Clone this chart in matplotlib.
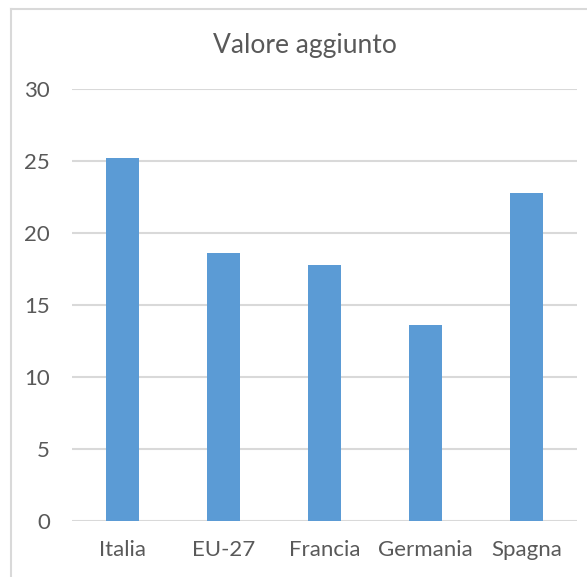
import matplotlib.pyplot as plt
from matplotlib.lines import Line2D

# Data
countries = ['Italia', 'EU-27', 'Francia', 'Germania', 'Spagna']
values = [25.2, 18.6, 17.8, 13.6, 22.8]
yticks = [0, 5, 10, 15, 20, 25, 30]

plt.rcParams['font.family'] = ['Lato', 'DejaVu Sans']
text_color = '#595959'
grid_color = '#D9D9D9'

fig = plt.figure(figsize=(5.87, 5.77), dpi=100)
ax = fig.add_axes([72 / 587, 1 - 521 / 577, 505 / 587, 432 / 577])

x = range(len(countries))
ax.bar(x, values, width=0.32, color='#5B9BD5', zorder=3)

ax.set_xlim(-0.5, len(countries) - 0.5)
ax.set_ylim(0, 30)
ax.set_yticks(yticks)
ax.set_xticks(list(x))
ax.set_xticklabels(countries)

# Gridlines, no spines
ax.grid(axis='y', color=grid_color, linewidth=1.5, zorder=0)
ax.set_axisbelow(True)
for s in ax.spines.values():
    s.set_visible(False)
ax.tick_params(length=0, labelsize=16, labelcolor=text_color)
ax.tick_params(axis='y', pad=16)
ax.tick_params(axis='x', pad=14)

fig.text(305 / 587, 1 - 45 / 577, 'Valore aggiunto', ha='center', va='center',
         fontsize=19, color=text_color)

# Chart-area border (left and top edges visible)
fig.add_artist(Line2D([11 / 587, 11 / 587], [0, 1 - 9 / 577], color=grid_color,
                      linewidth=1.5, transform=fig.transFigure))
fig.add_artist(Line2D([11 / 587, 1], [1 - 9 / 577, 1 - 9 / 577], color=grid_color,
                      linewidth=1.5, transform=fig.transFigure))

fig.savefig('out.png', dpi=100)
